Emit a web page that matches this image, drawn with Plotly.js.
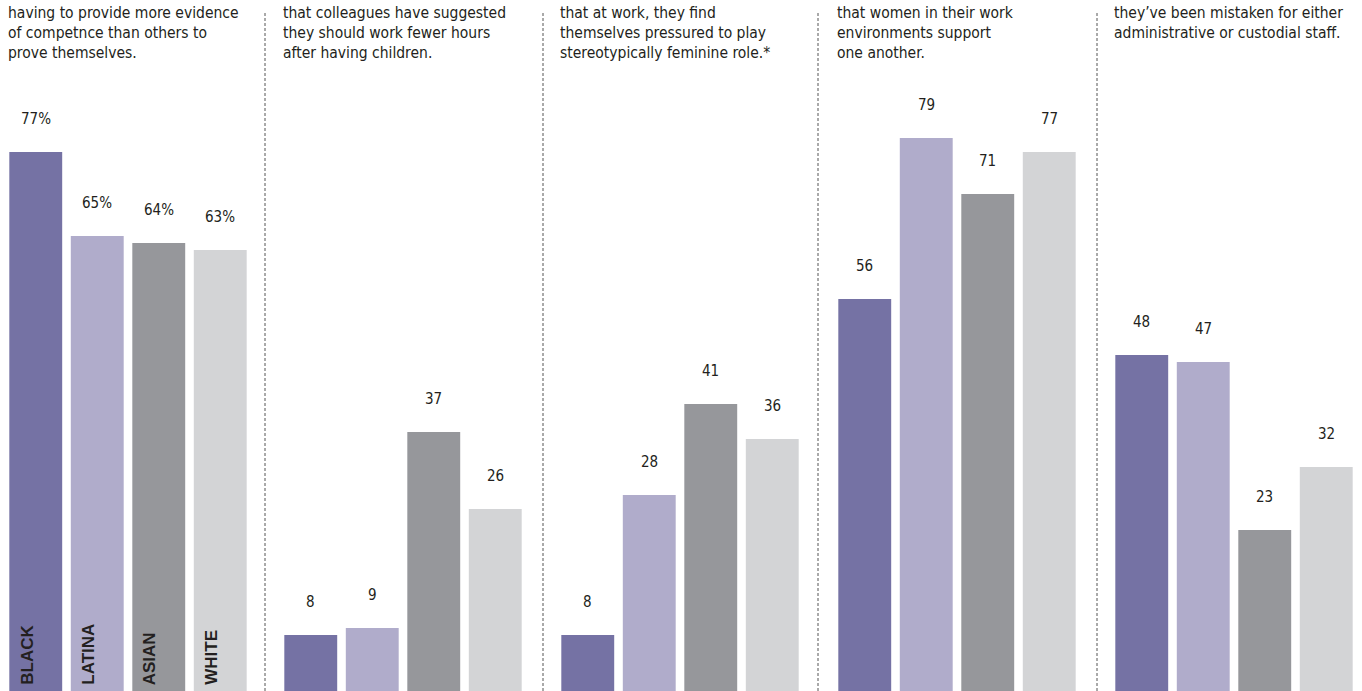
<!DOCTYPE html>
<html>
<head>
<meta charset="utf-8">
<script src="https://cdn.plot.ly/plotly-3.0.1.min.js"></script>
<style>html,body{margin:0;padding:0;background:#fff;}#chart{width:1362px;height:691px;}</style>
</head>
<body>
<div id="chart"></div>
<script>
// ---- data ----
const groups = ["BLACK", "LATINA", "ASIAN", "WHITE"];
const evidenceOfCompetence = [77, 65, 64, 63];
const fewerHours = [8, 9, 37, 26];
const feminineRole = [8, 28, 41, 36];
const womenSupport = [56, 79, 71, 77];
const mistakenForStaff = [48, 47, 23, 32];
const panelValues = [evidenceOfCompetence, fewerHours, feminineRole, womenSupport, mistakenForStaff];
const valueSuffix = ["%", "", "", "", ""];
const panelTitles = [
  ["having to provide more evidence", "of competnce than others to", "prove themselves."],
  ["that colleagues have suggested", "they should work fewer hours", "after having children."],
  ["that at work, they find", "themselves pressured to play", "stereotypically feminine role.*"],
  ["that women in their work", "environments support", "one another."],
  ["they\u2019ve been mistaken for either", "administrative or custodial staff."]
];

// ---- styling ----
const W = 1362, H = 691;
const colors = ["#7572a4", "#b0accb", "#96979b", "#d3d4d6"];
const fontFam = "'Liberation Sans Narrow', 'DejaVu Sans Condensed', Arial, sans-serif";
const textColor = "#231f20";
const domainsPx = [[5, 251], [280, 526], [557, 803], [834, 1080], [1111, 1357]];
const sepPx = [265, 543, 818, 1097];
const pxPerUnit = 7;

const traces = [];
const layout = {
  width: W, height: H,
  margin: {l: 0, r: 0, t: 0, b: 0},
  paper_bgcolor: "#fff", plot_bgcolor: "rgba(0,0,0,0)",
  showlegend: false,
  bargap: 0.14,
  annotations: [],
  shapes: [],
  font: {family: fontFam, color: textColor}
};

panelValues.forEach((vals, i) => {
  const n = i === 0 ? "" : String(i + 1);
  traces.push({
    type: "bar",
    x: groups, y: vals,
    xaxis: "x" + n, yaxis: "y" + n,
    marker: {color: colors, line: {width: 0}},
    hoverinfo: "skip"
  });
  layout["xaxis" + n] = {
    domain: [domainsPx[i][0] / W, domainsPx[i][1] / W],
    type: "category", showticklabels: false, showgrid: false, zeroline: false,
    showline: false, ticks: "", anchor: "y" + n, fixedrange: true
  };
  layout["yaxis" + n] = {
    domain: [0, 1], range: [0, H / pxPerUnit],
    showticklabels: false, showgrid: false, zeroline: false, showline: false,
    ticks: "", anchor: "x" + n, fixedrange: true
  };
  vals.forEach((v, j) => {
    layout.annotations.push({
      xref: "x" + n, yref: "y" + n, x: groups[j], y: v,
      text: v + valueSuffix[i], showarrow: false,
      xanchor: "center", yanchor: "middle", yshift: 33,
      font: {family: fontFam, size: 15, color: textColor}
    });
  });
  // title (multi-line)
  const left = (domainsPx[i][0] + 2) / W;
  layout.annotations.push({
    xref: "paper", yref: "paper", x: left, y: 1 - 3 / H,
    text: panelTitles[i].join("<br>"), showarrow: false,
    xanchor: "left", yanchor: "top", align: "left", borderpad: 0,
    font: {family: fontFam, size: 15.5, color: textColor}
  });
});

// group labels inside first panel's bars
groups.forEach((g, j) => {
  layout.annotations.push({
    xref: "x", yref: "y", x: g, y: 0, text: "<b>" + g + "</b>",
    showarrow: false, textangle: -90, xanchor: "center", yanchor: "bottom",
    xshift: -9, yshift: 4,
    font: {family: "'Liberation Sans', Arial, sans-serif", size: 17, color: textColor}
  });
});

sepPx.forEach(x => {
  layout.shapes.push({
    type: "line", xref: "paper", yref: "paper",
    x0: x / W, x1: x / W, y0: 0, y1: 1 - 12 / H,
    line: {color: "#555", width: 1, dash: "3px,2px"}
  });
});

Plotly.newPlot("chart", traces, layout, {displayModeBar: false, staticPlot: true});
</script>
</body>
</html>
